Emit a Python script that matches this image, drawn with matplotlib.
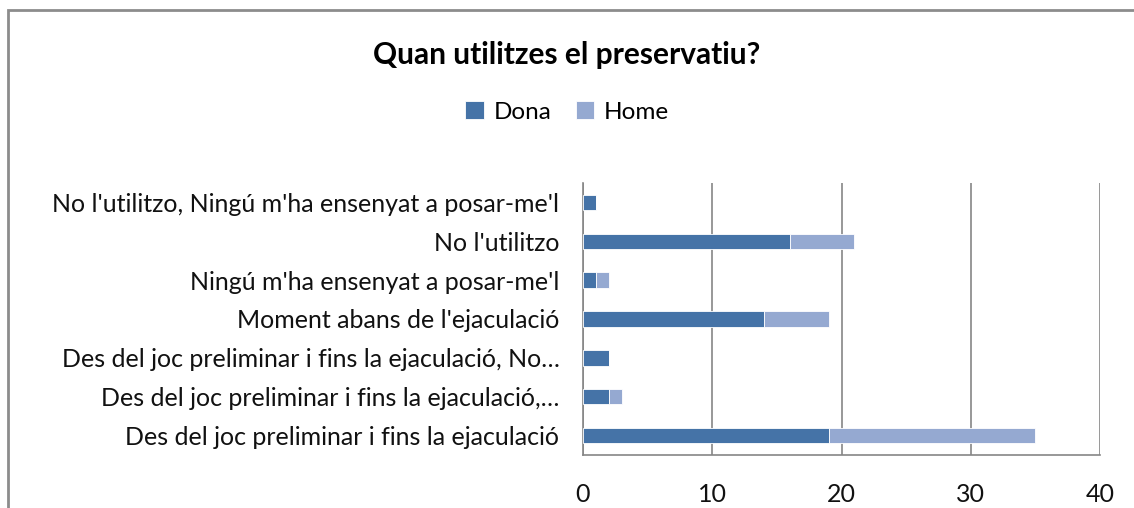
import matplotlib.pyplot as plt
import matplotlib.patches as patches
import numpy as np

categories = [
    "No l'utilitzo, Ningú m'ha ensenyat a posar-me'l",
    "No l'utilitzo",
    "Ningú m'ha ensenyat a posar-me'l",
    "Moment abans de l'ejaculació",
    "Des del joc preliminar i fins la ejaculació, No…",
    "Des del joc preliminar i fins la ejaculació,…",
    "Des del joc preliminar i fins la ejaculació",
]
dona = [1, 16, 1, 14, 2, 2, 19]
home = [0, 5, 1, 5, 0, 1, 16]

plt.rcParams['font.family'] = ['Lato', 'DejaVu Sans']

fig = plt.figure(figsize=(11.34, 5.08), dpi=100)
ax = fig.add_axes([583/1134, 1 - 455/508, (1100 - 583)/1134, (455 - 183)/508])

# top category first
y = np.arange(len(categories))[::-1]
ax.barh(y, dona, height=0.4, color='#4573A7', edgecolor='white', linewidth=0.6, label='Dona', zorder=3)
ax.barh(y, home, left=dona, height=0.4, color='#95A9D1', edgecolor='white', linewidth=0.6, label='Home', zorder=3)

ax.set_xlim(0, 40)
ax.set_ylim(-0.5, len(categories) - 0.5)
ax.set_xticks([0, 10, 20, 30, 40])
ax.set_yticks(y)
ax.set_yticklabels(categories)
ax.tick_params(axis='both', labelsize=18, colors='#111111', length=0)
ax.tick_params(axis='x', pad=20)
ax.tick_params(axis='y', pad=17)
ax.grid(axis='x', color='#868686', linewidth=1.2, zorder=0)

for s in ['top', 'right']:
    ax.spines[s].set_visible(False)
ax.spines['left'].set_color('#868686')
ax.spines['bottom'].set_color('#868686')
ax.spines['left'].set_linewidth(1.2)
ax.spines['bottom'].set_linewidth(1.2)

fig.text(0.5, 1 - 55/508, "Quan utilitzes el preservatiu?", ha='center', va='center',
         fontsize=21.5, fontweight='bold', color='#000000')
fig.legend(loc='center', bbox_to_anchor=(0.5, 1 - 112/508), ncol=2, frameon=False,
           fontsize=17.5, handlelength=0.75, handleheight=0.75, handletextpad=0.4,
           columnspacing=1.0)

# chart border, cut off at right and bottom
fig.patches.append(patches.Rectangle((8/1134, -0.1), 1.2, 1 - 10/508 + 0.1,
                                     transform=fig.transFigure, fill=False,
                                     edgecolor='#8c8c8c', linewidth=2))

fig.savefig('out.png', dpi=100)
